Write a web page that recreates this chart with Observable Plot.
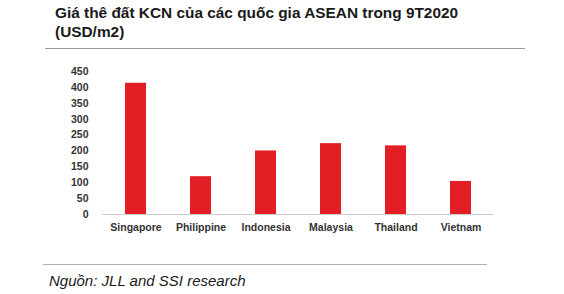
<!DOCTYPE html>
<html><head><meta charset="utf-8">
<script src="https://cdn.jsdelivr.net/npm/d3@7"></script>
<script src="https://cdn.jsdelivr.net/npm/@observablehq/plot@0.6"></script>
<style>
body{margin:0;background:#fff;font-family:"Liberation Sans",Arial,sans-serif;}
#wrap{position:relative;width:564px;height:294px;overflow:hidden;}
#title{position:absolute;left:55px;top:3px;font-weight:bold;font-size:15.4px;line-height:19px;color:#1a1a1a;white-space:nowrap;}
.hr{position:absolute;height:1px;background:#9a9a9a;}
#src{position:absolute;left:49px;top:272px;font-style:italic;font-size:15px;color:#1a1a1a;white-space:nowrap;}
#chart{position:absolute;left:0;top:50px;}
</style></head><body>
<div id="wrap">
<div id="title">Giá thê đất KCN của các quốc gia ASEAN trong 9T2020<br>(USD/m2)</div>
<div class="hr" style="left:45px;top:48px;width:480px;"></div>
<div id="chart"></div>
<div class="hr" style="left:43px;top:264px;width:444px;background:#b0b0b0;"></div>
<div id="src">Nguồn: JLL and SSI research</div>
</div>
<script>
const countries = ["Singapore","Philippine","Indonesia","Malaysia","Thailand","Vietnam"];
const prices = [413,119,200,223,216,104];
const yTicks = [0,50,100,150,200,250,300,350,400,450];
const data = countries.map((c,i)=>({country:c, price:prices[i]}));
const plot = Plot.plot({
  width:564, height:190,
  marginLeft:102, marginRight:71, marginTop:21, marginBottom:26,
  style:{fontFamily:"'Liberation Sans', Arial, sans-serif", fontSize:"10.5px", fontWeight:"bold", color:"#333", background:"transparent"},
  x:{domain:countries, paddingInner:0.68, paddingOuter:0.34, label:null, tickSize:0, tickPadding:9},
  y:{domain:[0,450], ticks:yTicks, label:null, tickSize:0, tickPadding:14},
  marks:[
    Plot.barY(data,{x:"country", y:"price", fill:"#e31e24"}),
    Plot.ruleY([0],{stroke:"#cccccc"})
  ]
});
document.getElementById("chart").appendChild(plot);
</script>
</body></html>
